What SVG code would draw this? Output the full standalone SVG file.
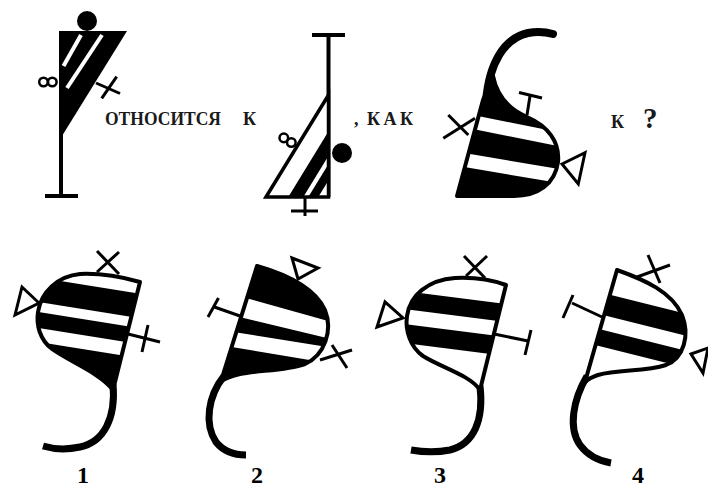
<svg xmlns="http://www.w3.org/2000/svg" width="708" height="489" viewBox="0 0 708 489">
<style>
.ln{stroke:#000;stroke-width:3;fill:none}
.pole{stroke:#000;stroke-width:4;fill:none}
.out{stroke:#000;stroke-width:4;fill:none;stroke-linejoin:round}
.tail{stroke:#000;stroke-width:7;fill:none}
.hook{stroke:#000;stroke-width:8;fill:none;stroke-linecap:round}
.tri{stroke:#000;stroke-width:3;fill:#fff}
.wh{fill:#fff}
.bk{fill:#000}
.inf{stroke:#000;stroke-width:2.5;fill:none}
.t{font-family:"Liberation Serif","Times New Roman",serif;font-weight:bold;font-size:18px;fill:#1a1a1a}
.num{font-family:"Liberation Serif","Times New Roman",serif;font-weight:bold;font-size:24px;text-anchor:middle;fill:#000}
</style>
<defs>
<clipPath id="c3"><path d="M457,196 L483,100 L493,76 C497,96 508,109 527,117 C548,126 560,142 558,162 C555,184 538,196 514,196 Z"/></clipPath>
<clipPath id="c2t"><polygon points="266,197 328.5,95 328.5,197"/></clipPath>
<clipPath id="o1"><path d="M140,282 L113,390 C100,373 70,362 52,349 C40,340 36,325 38,312 C41,292 58,276 80,274 C102,273 122,277 140,282 Z"/></clipPath>
<clipPath id="o2"><path d="M257,266 C285,274 315,288 325,310 C333,330 325,355 305,364 C285,371 258,370 240,374 C232,376 226,378 221,381 Z"/></clipPath>
<clipPath id="o3"><path d="M506,285 L480,390 C470,375 440,367 423,356 C410,347 405,330 407,316 C410,295 428,280 455,278 C475,277 492,280 506,285 Z"/></clipPath>
<clipPath id="o4"><path d="M617,270 C645,280 672,292 682,315 C690,335 684,358 666,365 C645,372 618,369 598,375 C592,377 588,379 585,382 Z"/></clipPath>
</defs>
<rect width="708" height="489" fill="#fff"/>

<g id="fig1">
<line class="pole" x1="61" y1="31" x2="61" y2="196"/>
<line class="pole" x1="45" y1="196" x2="78" y2="196"/>
<polygon class="bk" points="59,31 127,31 62,136"/>
<line x1="63.5" y1="66" x2="81" y2="35" stroke="#fff" stroke-width="4"/>
<line x1="67" y1="88" x2="102" y2="35" stroke="#fff" stroke-width="4"/>
<circle class="bk" cx="87" cy="21" r="10"/>
<circle class="inf" cx="43.5" cy="82" r="4.3"/>
<circle class="inf" cx="52.3" cy="82" r="4.3"/>
<line class="ln" x1="96" y1="83" x2="120" y2="93.5"/>
<line class="ln" x1="101.7" y1="98.3" x2="116.7" y2="76.7"/>
</g>

<g id="fig2">
<line class="pole" x1="328.5" y1="35" x2="328.5" y2="197"/>
<line class="pole" x1="312" y1="35" x2="345" y2="35"/>
<polygon points="266,197 328.5,95 328.5,197" fill="#fff"/>
<g clip-path="url(#c2t)">
<polygon class="bk" points="288.3,197 303.3,197 365.6,95.3 350.6,95.3"/>
<polygon class="bk" points="308.3,197 318.3,197 380.6,95.3 370.6,95.3"/>
</g>
<polygon points="266,197 328.5,95 328.5,197" fill="none" stroke="#000" stroke-width="3.5" stroke-linejoin="miter"/>
<circle class="bk" cx="342" cy="153" r="10"/>
<circle class="inf" cx="291.3" cy="142.5" r="4.3"/>
<circle class="inf" cx="283.8" cy="137.9" r="4.3"/>
<line class="ln" x1="305" y1="197" x2="305" y2="216"/>
<line class="ln" x1="291" y1="211" x2="318" y2="211"/>
</g>

<g id="fig3">
<path class="hook" d="M486,102 C489,62 505,38 528,33 C538,31 546,32 553,34"/>
<path class="bk" d="M457,196 L483,100 L493,76 C497,96 508,109 527,117 C548,126 560,142 558,162 C555,184 538,196 514,196 Z"/>
<g clip-path="url(#c3)">
<polygon class="wh" points="440,108.4 600,140.4 600,154.4 440,122.4"/>
<polygon class="wh" points="440,149 600,176 600,190 440,163"/>
</g>
<path class="out" d="M457,196 L483,100 L493,76 C497,96 508,109 527,117 C548,126 560,142 558,162 C555,184 538,196 514,196 Z"/>
<line class="ln" x1="443.3" y1="138.3" x2="475" y2="118.3"/>
<line class="ln" x1="448.3" y1="115" x2="468.3" y2="135"/>
<line class="ln" x1="527" y1="115" x2="530" y2="96"/>
<line class="ln" x1="519" y1="92.5" x2="542" y2="98"/>
<polygon class="tri" points="562,164 585,152.7 578.3,184"/>
</g>

<g id="opt1">
<path class="wh" d="M140,282 L113,390 C100,373 70,362 52,349 C40,340 36,325 38,312 C41,292 58,276 80,274 C102,273 122,277 140,282 Z"/>
<g clip-path="url(#o1)">
<polygon class="bk" points="20,274.6 160,297 160,321.4 20,299"/>
<polygon class="bk" points="20,309 160,331.4 160,347.4 20,325"/>
<polygon class="bk" points="20,339 160,361.4 160,460 20,460"/>
</g>
<path class="tail" d="M113,384 C116,418 104,442 80,447 C66,450 53,449 43,446"/>
<path class="out" d="M140,282 L113,390 C100,373 70,362 52,349 C40,340 36,325 38,312 C41,292 58,276 80,274 C102,273 122,277 140,282 Z"/>
<line class="ln" x1="97" y1="251" x2="119" y2="274"/>
<line class="ln" x1="119" y1="252" x2="97" y2="272"/>
<polygon class="tri" points="15,315 22,287 39,303"/>
<line class="ln" x1="128" y1="334" x2="160" y2="342"/>
<line class="ln" x1="148" y1="325" x2="142" y2="352"/>
</g>

<g id="opt2">
<path class="bk" d="M257,266 C285,274 315,288 325,310 C333,330 325,355 305,364 C285,371 258,370 240,374 C232,376 226,378 221,381 Z"/>
<g clip-path="url(#o2)">
<polygon class="wh" points="210,288.1 340,324.2 340,341.1 210,309.9"/>
<polygon class="wh" points="210,328.3 340,349 340,365 210,343.4"/>
</g>
<path class="tail" d="M224,376 C208,396 204,424 216,442 C224,452 235,455 246,455"/>
<path class="out" d="M257,266 C285,274 315,288 325,310 C333,330 325,355 305,364 C285,371 258,370 240,374 C232,376 226,378 221,381 Z"/>
<line class="ln" x1="240" y1="316" x2="213" y2="306.5"/>
<line class="ln" x1="208" y1="317" x2="218.5" y2="298"/>
<polygon class="tri" points="292,258 318,268 298,279"/>
<line class="ln" x1="320" y1="360" x2="352" y2="350"/>
<line class="ln" x1="332" y1="345" x2="347" y2="368"/>
</g>

<g id="opt3">
<path class="wh" d="M506,285 L480,390 C470,375 440,367 423,356 C410,347 405,330 407,316 C410,295 428,280 455,278 C475,277 492,280 506,285 Z"/>
<g clip-path="url(#o3)">
<polygon class="bk" points="395,289.7 520,305.9 520,323.9 395,307.7"/>
<polygon class="bk" points="395,322.7 520,338.9 520,357.9 395,341.7"/>
</g>
<path class="tail" d="M480,386 C484,420 474,444 450,450 C435,453 422,452 411,450"/>
<path class="out" d="M506,285 L480,390 C470,375 440,367 423,356 C410,347 405,330 407,316 C410,295 428,280 455,278 C475,277 492,280 506,285 Z"/>
<line class="ln" x1="464" y1="256" x2="485" y2="278"/>
<line class="ln" x1="487" y1="256" x2="466" y2="276"/>
<polygon class="tri" points="377,327 385,302 403,318"/>
<line class="ln" x1="494" y1="334" x2="528" y2="341"/>
<line class="ln" x1="531" y1="330" x2="525" y2="355"/>
</g>

<g id="opt4">
<path class="wh" d="M617,270 C645,280 672,292 682,315 C690,335 684,358 666,365 C645,372 618,369 598,375 C592,377 588,379 585,382 Z"/>
<g clip-path="url(#o4)">
<polygon class="bk" points="570,284.75 700,317.25 700,339.25 570,306.75"/>
<polygon class="bk" points="570,321.75 700,354.25 700,371.25 570,338.75"/>
</g>
<path class="tail" d="M587,376 C573,400 568,428 580,445 C588,456 600,461 611,463"/>
<path class="out" d="M617,270 C645,280 672,292 682,315 C690,335 684,358 666,365 C645,372 618,369 598,375 C592,377 588,379 585,382 Z"/>
<line class="ln" x1="637" y1="277" x2="670" y2="265"/>
<line class="ln" x1="648" y1="255" x2="660" y2="283"/>
<line class="ln" x1="602" y1="317" x2="572" y2="303"/>
<line class="ln" x1="563" y1="318" x2="573" y2="295"/>
<polygon class="tri" points="691,354 708,348 703,373"/>
</g>

<g id="texts">
<text class="t" x="105" y="125" textLength="116" lengthAdjust="spacingAndGlyphs">ОТНОСИТСЯ</text>
<text class="t" x="243" y="125">К</text>
<text class="t" x="354" y="125">,</text>
<text class="t" x="367" y="125" textLength="46" lengthAdjust="spacing">КАК</text>
<text class="t" x="611" y="128">К</text>
<text class="t" x="643" y="128" style="font-size:29px">?</text>
<text class="num" x="83" y="483">1</text>
<text class="num" x="257" y="483">2</text>
<text class="num" x="440" y="483">3</text>
<text class="num" x="638" y="483">4</text>
</g>
</svg>
